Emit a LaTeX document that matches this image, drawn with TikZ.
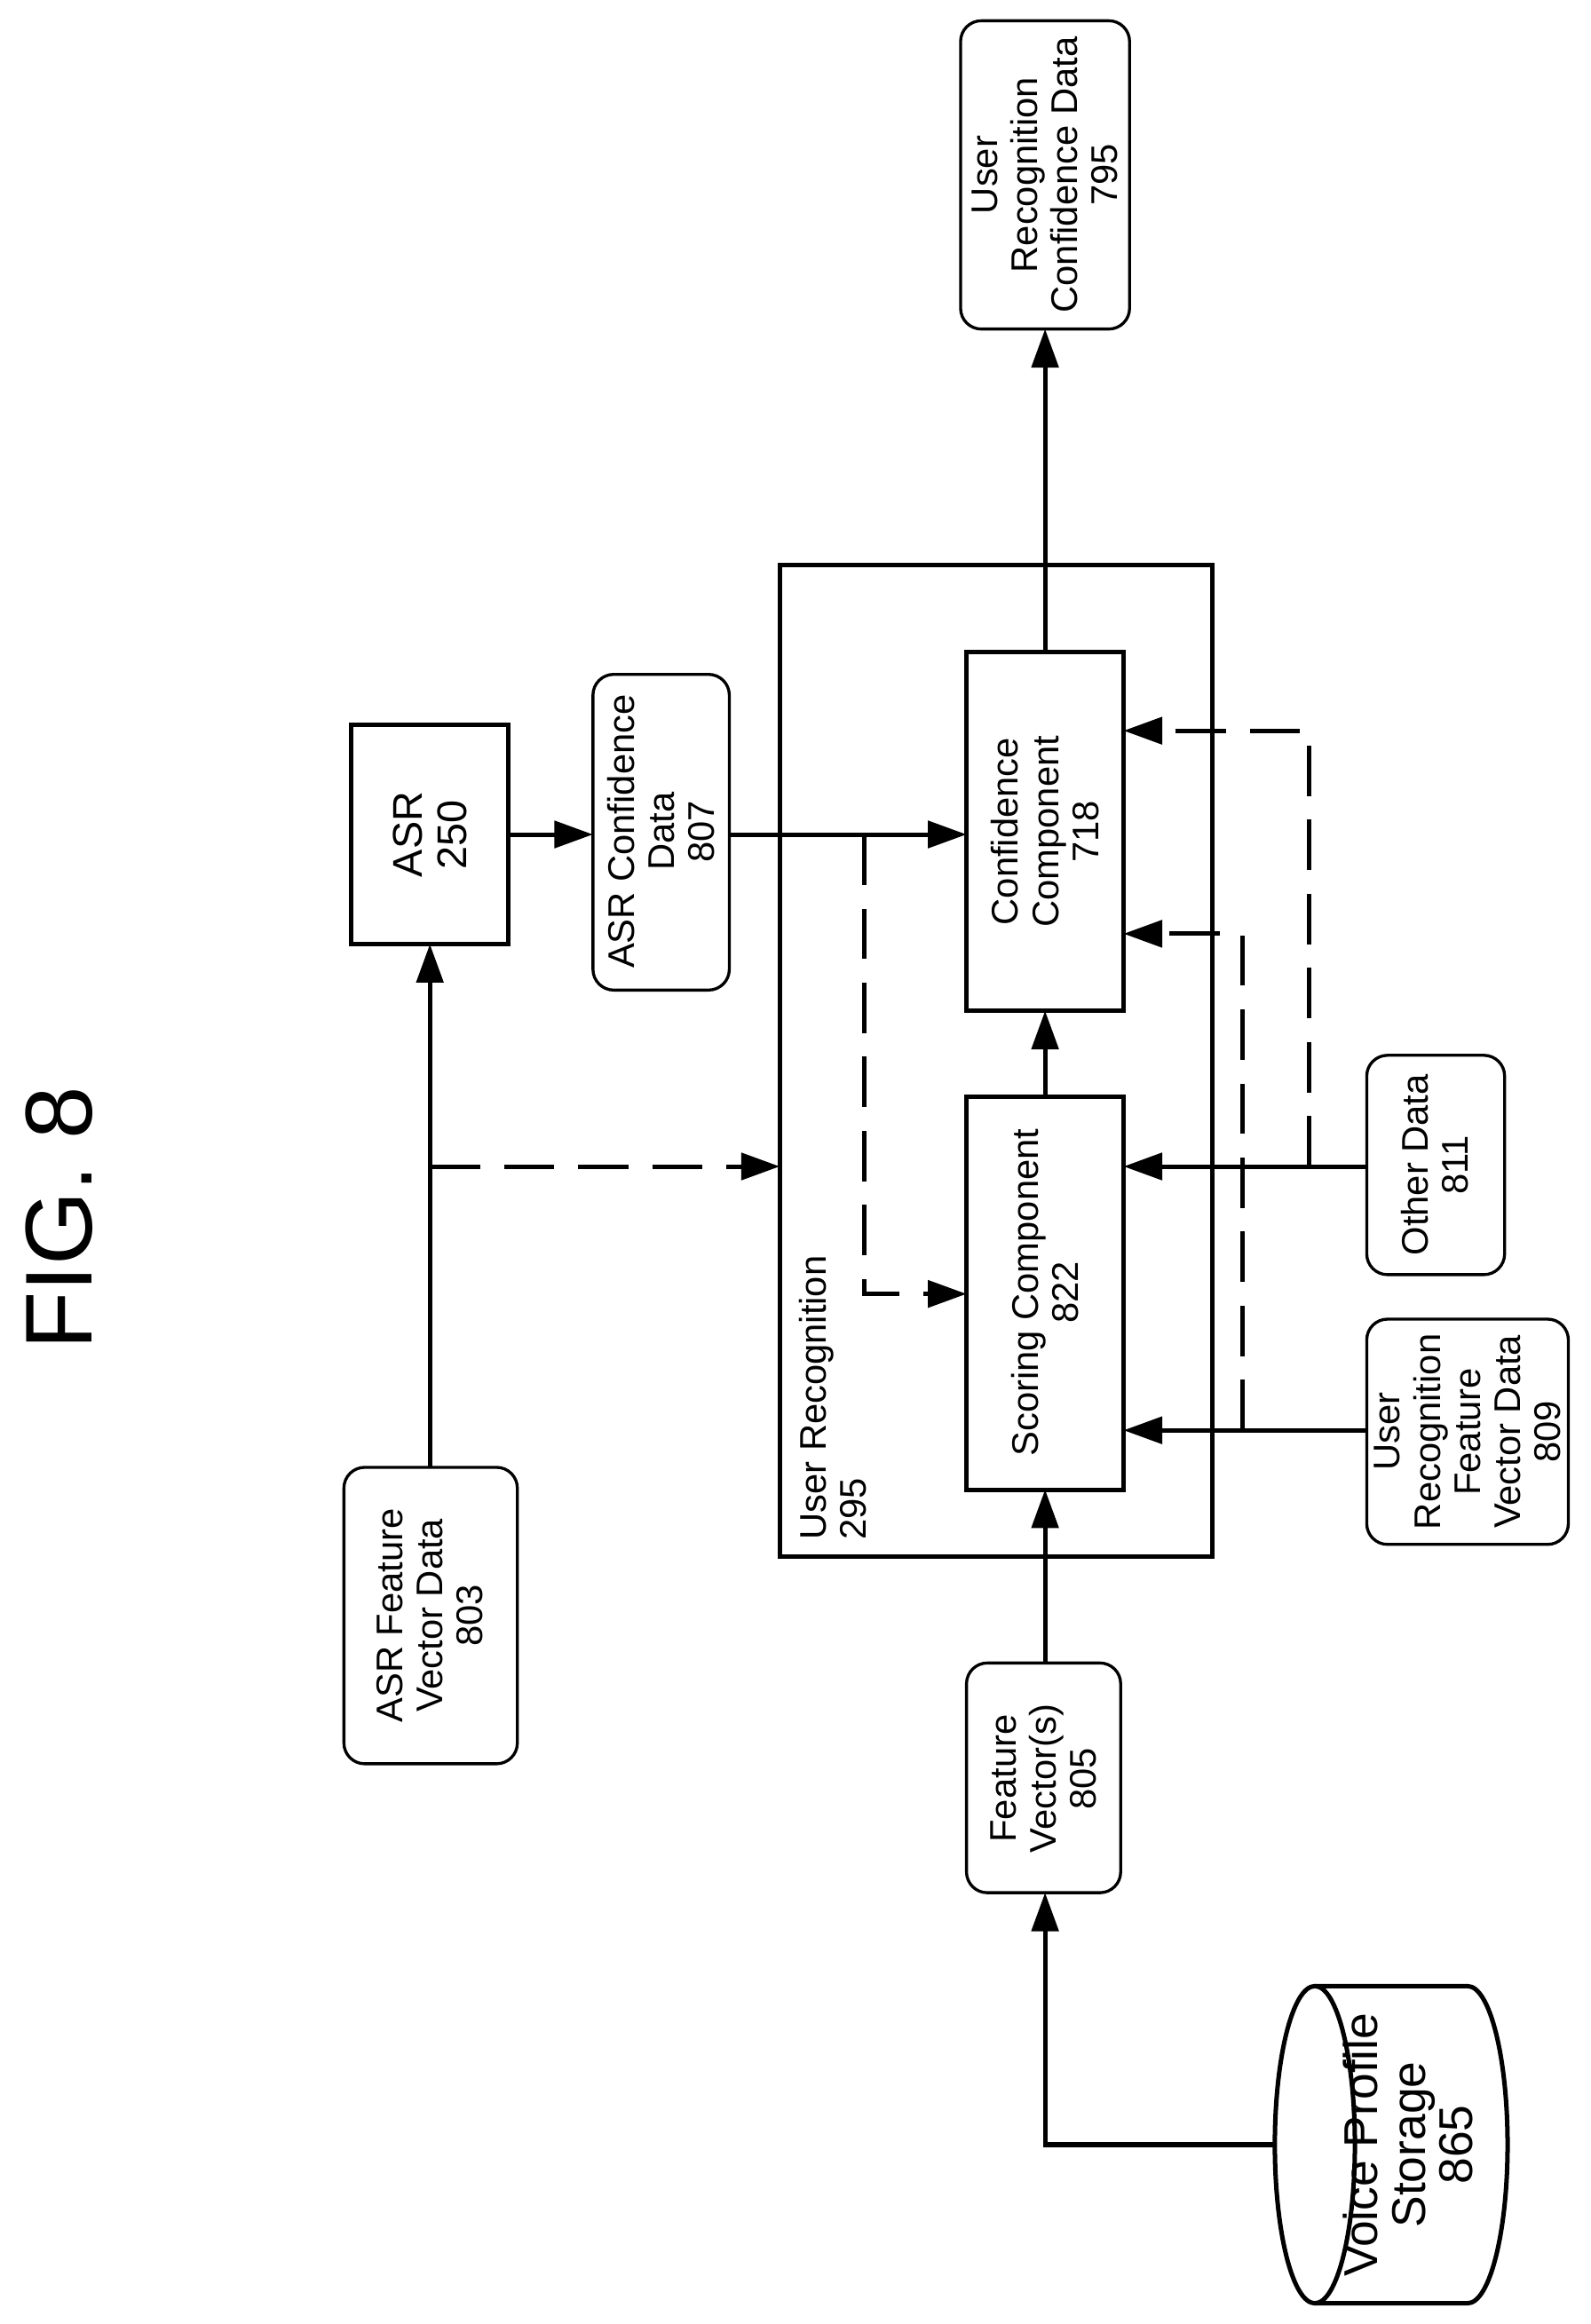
\documentclass[tikz,border=0pt]{standalone}
\usepackage{fontspec}
\setmainfont{Liberation Sans}
\usetikzlibrary{arrows.meta}
\begin{document}
\begin{tikzpicture}[x=0.5pt,y=-0.5pt,
  ln/.style={line width=1.5pt},
  ar/.style={ln,-{Triangle[length=13pt,width=9pt]}},
  da/.style={ar,dash pattern=on 17pt off 8pt},
  dl/.style={ln,dash pattern=on 17pt off 8pt},
  box/.style={draw,line width=1.5pt},
  rbox/.style={draw,line width=1pt,rounded corners=7pt},
  txt/.style={rotate=90,align=center,font=\fontsize{12.5}{13.5}\selectfont}]
\useasboundingbox (0,0) rectangle (1073,1568);
\node[txt,font=\fontsize{32}{34}\selectfont] (fig) at (40,822) {FIG. 8};
% big box
\draw[box] (526,381) rectangle (818,1050);
\node[txt,align=left,anchor=north west] (ur) at (532,1046) {User Recognition\\295};
% boxes
\draw[box] (237,489) rectangle (343,637);
\node[txt,font=\fontsize{14}{15}\selectfont] (asr) at (290,563) {ASR\\250};
\draw[rbox] (400,455) rectangle (492,668);
\node[txt] (acd) at (446,561) {ASR Confidence\\Data\\807};
\draw[rbox] (648,14) rectangle (762,222);
\node[txt] (urcd) at (705,118) {User\\Recognition\\Confidence Data\\795};
\draw[box] (652,440) rectangle (758,682);
\node[txt] (cc) at (705,561) {Confidence\\Component\\718};
\draw[box] (652,740) rectangle (758,1005);
\node[txt] (sc) at (705,872) {Scoring Component\\822};
\draw[rbox] (232,990) rectangle (349,1190);
\node[txt] (afv) at (290,1090) {ASR Feature\\Vector Data\\803};
\draw[rbox] (652,1122) rectangle (756,1277);
\node[txt] (fv) at (704,1200) {Feature\\Vector(s)\\805};
\draw[rbox] (922,712) rectangle (1015,860);
\node[txt] (od) at (968,786) {Other Data\\811};
\draw[rbox] (922,890) rectangle (1058,1042);
\node[txt] (urfv) at (990,966) {User\\Recognition\\Feature\\Vector Data\\809};
% cylinder
\draw[ln] (887,1340) -- (990,1340) arc[start angle=-90,end angle=90,x radius=27,y radius=107] -- (887,1554);
\draw[ln] (887,1447) ellipse[x radius=27,y radius=107];
\node[txt,font=\fontsize{16}{16}\selectfont] (vps) at (950,1447) {Voice Profile\\Storage\\865};
% connectors
\coordinate (c1) at (290,787);
\draw[ar] (290,990) -- (290,637);
\draw[da] (c1) -- (526,787);
\draw[ar] (343,563) -- (400,563);
\draw[ar] (492,563) -- (652,563);
\draw[da] (583,563) -- (583,873) -- (652,873);
\draw[ar] (705,740) -- (705,682);
\draw[ar] (705,440) -- (705,222);
\draw[ar] (705,1122) -- (705,1005);
\draw[ar] (860,1447) -- (705,1447) -- (705,1277);
\draw[ar] (922,787) -- (758,787);
\draw[da] (883,787) -- (883,493) -- (758,493);
\draw[ar] (922,965) -- (758,965);
\draw[da] (838,965) -- (838,630) -- (758,630);
\end{tikzpicture}
\end{document}
